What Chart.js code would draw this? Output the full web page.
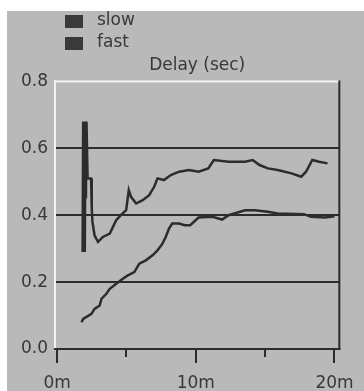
<!DOCTYPE html>
<html>
<head>
<meta charset="utf-8">
<script src="https://cdn.jsdelivr.net/npm/chart.js@4/dist/chart.umd.min.js"></script>
<style>
  html, body { margin: 0; padding: 0; background: #fff; }
  #panel { position: absolute; left: 7px; top: 11px; width: 357px; height: 380px; background: #b9b9b9; }
</style>
</head>
<body>
<div id="panel"><canvas id="delayChart"></canvas></div>
<script>
// values (minutes, seconds)
var slowTimes = [1.84, 1.88, 1.92, 1.96, 2.0, 2.04, 2.08, 2.12, 2.2, 2.45, 2.5, 2.55, 2.7, 2.95, 3.3, 3.8, 4.26, 4.6, 4.98, 5.17, 5.33, 5.7, 6.17, 6.64, 7.0, 7.24, 7.7, 8.2, 8.8, 9.5, 10.2, 10.9, 11.3, 12.36, 13.55, 14.1, 14.6, 15.2, 15.9, 16.9, 17.6, 17.95, 18.4, 18.9, 19.5];
var slowDelay = [0.29, 0.68, 0.29, 0.68, 0.29, 0.68, 0.45, 0.68, 0.51, 0.51, 0.42, 0.38, 0.34, 0.32, 0.335, 0.345, 0.385, 0.40, 0.415, 0.475, 0.455, 0.435, 0.445, 0.46, 0.485, 0.51, 0.505, 0.52, 0.53, 0.535, 0.53, 0.54, 0.565, 0.56, 0.56, 0.565, 0.55, 0.54, 0.535, 0.525, 0.515, 0.53, 0.565, 0.56, 0.555];

var fastTimes = [1.76, 1.88, 2.48, 2.7, 3.07, 3.2, 3.55, 3.8, 4.26, 4.74, 5.1, 5.57, 5.93, 6.4, 6.88, 7.24, 7.6, 7.83, 8.07, 8.3, 8.8, 9.2, 9.6, 10.2, 11.2, 11.9, 12.36, 13.55, 14.26, 15.2, 15.9, 17.8, 18.3, 19.3, 20.0];
var fastDelay = [0.08, 0.09, 0.105, 0.12, 0.13, 0.15, 0.165, 0.18, 0.195, 0.21, 0.22, 0.23, 0.255, 0.265, 0.28, 0.295, 0.315, 0.335, 0.36, 0.375, 0.375, 0.37, 0.37, 0.393, 0.395, 0.387, 0.40, 0.415, 0.415, 0.41, 0.405, 0.403, 0.395, 0.393, 0.397];

var seriesNames = ['slow', 'fast'];
var yTicks = [0, 0.2, 0.4, 0.6, 0.8];
var xTicks = [0, 5, 10, 15, 20];

var ink = '#2c2c2c';
var textInk = '#383838';
var font = '"DejaVu Sans", Verdana, sans-serif';

function toPoints(xs, ys) {
    return xs.map(function (x, i) { return { x: x, y: ys[i] }; });
}

// legend stacked in the top-left corner, like the original
var boxLegend = {
    id: 'boxLegend',
    afterDraw: function (chart) {
        var c = chart.ctx;
        c.save();
        c.font = '17px ' + font;
        c.textBaseline = 'middle';
        chart.data.datasets.forEach(function (ds, i) {
            var y = 4 + i * 22;
            c.fillStyle = '#3a3a3a';
            c.fillRect(58, y, 18, 13);
            c.fillStyle = textInk;
            c.fillText(ds.label, 90, y + 6);
        });
        c.restore();
    }
};

// frame edges plus the x tick marks (long at 0/10/20, short at 5/15)
var frame = {
    id: 'frame',
    afterDraw: function (chart) {
        var a = chart.chartArea, c = chart.ctx, xs = chart.scales.x;
        c.save();
        c.fillStyle = '#f2f2f2';
        c.fillRect(a.left - 1, a.top - 1, a.right - a.left + 1, 2);
        c.fillRect(a.left - 1, a.top - 1, 2, a.bottom - a.top + 1);
        c.fillStyle = ink;
        c.fillRect(a.right - 1, a.top - 1, 2, a.bottom - a.top + 2);
        c.fillRect(a.left - 1, a.bottom - 1, a.right - a.left + 2, 2);
        xTicks.forEach(function (v) {
            var px = Math.round(xs.getPixelForValue(v));
            var len = v % 10 === 0 ? 14 : 8;
            c.fillRect(px - 1, a.bottom, 2, len);
        });
        c.restore();
    }
};

var ctx = document.getElementById('delayChart').getContext('2d');
var chart = new Chart(ctx, {
    type: 'line',
    data: {
        datasets: [{
            label: seriesNames[0],
            data: toPoints(slowTimes, slowDelay),
            borderColor: ink,
            borderWidth: 2.5,
            pointRadius: 0,
            tension: 0
        }, {
            label: seriesNames[1],
            data: toPoints(fastTimes, fastDelay),
            borderColor: ink,
            borderWidth: 2.5,
            pointRadius: 0,
            tension: 0
        }]
    },
    options: {
        responsive: true,
        maintainAspectRatio: false,
        animation: false,
        devicePixelRatio: 1,
        layout: { padding: { top: 0, right: 22, bottom: 0, left: 0 } },
        plugins: {
            legend: { display: false },
            tooltip: { enabled: false },
            title: {
                display: true,
                text: 'Delay (sec)',
                fullSize: false,
                color: textInk,
                font: { family: font, size: 17, weight: 'normal' },
                padding: { top: 44, bottom: 6 }
            }
        },
        scales: {
            x: {
                type: 'linear',
                min: -0.15,
                max: 20.35,
                afterBuildTicks: function (s) { s.ticks = xTicks.map(function (v) { return { value: v }; }); },
                afterFit: function (s) { s.height = 42; },
                ticks: {
                    includeBounds: false,
                    padding: 10,
                    maxRotation: 0,
                    autoSkip: false,
                    color: textInk,
                    font: { family: font, size: 17 },
                    callback: function (v) { return v % 10 === 0 ? v + 'm' : ''; }
                },
                grid: {
                    drawOnChartArea: false,
                    tickLength: 14,
                    tickColor: 'rgba(0,0,0,0)'
                },
                border: { display: false }
            },
            y: {
                min: 0,
                max: 0.8,
                afterBuildTicks: function (s) { s.ticks = yTicks.map(function (v) { return { value: v }; }); },
                afterFit: function (s) { s.width = 48; },
                ticks: {
                    padding: 7,
                    color: textInk,
                    font: { family: font, size: 17 },
                    callback: function (v) { return v.toFixed(1); }
                },
                grid: {
                    drawTicks: false,
                    lineWidth: 2,
                    color: function (c) {
                        var v = c.tick ? c.tick.value : 0;
                        return v > 0.01 && v < 0.79 ? ink : 'rgba(0,0,0,0)';
                    }
                },
                border: { display: false }
            }
        }
    },
    plugins: [boxLegend, frame]
});
</script>
</body>
</html>
